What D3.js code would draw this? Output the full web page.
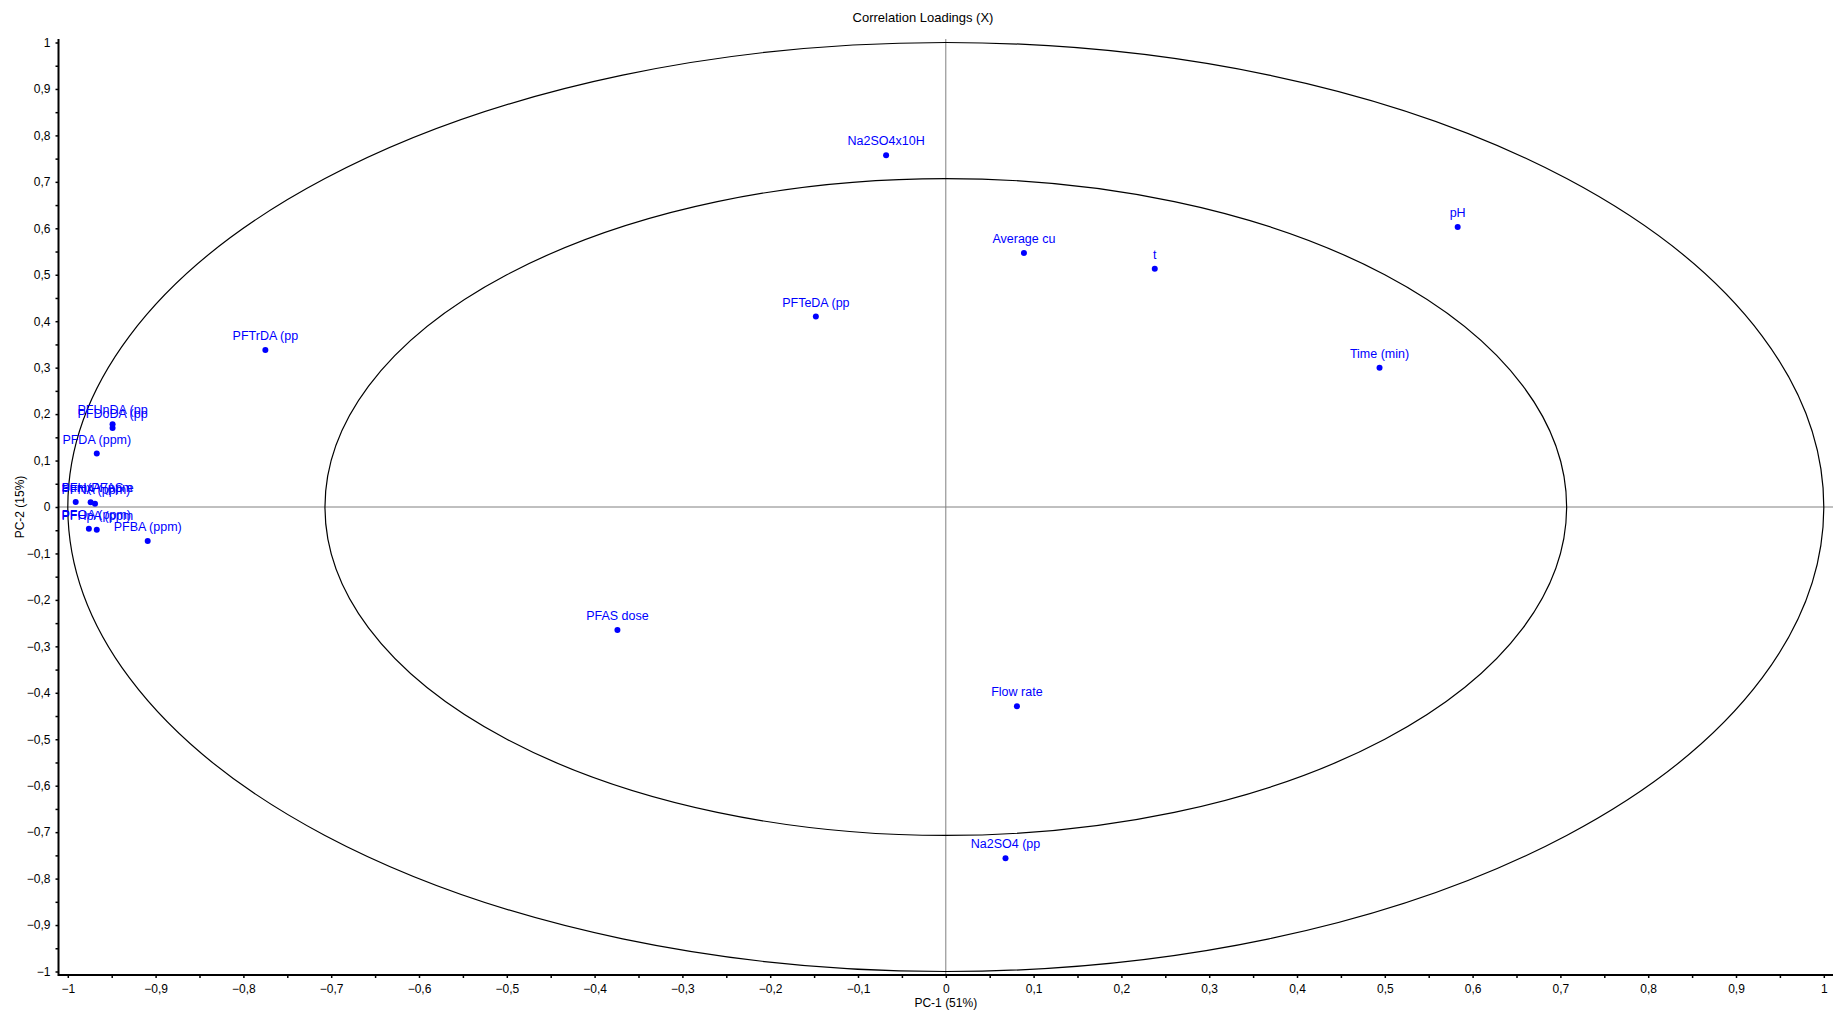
<!DOCTYPE html>
<html>
<head>
<meta charset="utf-8">
<script src="https://cdn.jsdelivr.net/npm/d3@7"></script>
<style>
    body { margin: 0; background: #fff; }
    svg { display: block; font-family: "Liberation Sans", Arial, sans-serif; }
</style>
</head>
<body>
<div id="chart"></div>
<script>
// loadings
const variableNames = [
    "Na2SO4x10H", "pH", "Average cu", "t", "PFTeDA (pp", "Time (min)",
    "PFTrDA (pp", "PFUnDA (pp", "PFDoDA (pp", "PFDA (ppm)", "Sum(PFAS e",
    "PFHxA (ppm", "PFNA (ppm)", "PFOA (ppm)", "PFHpA (ppm", "PFBA (ppm)",
    "PFAS dose", "Flow rate", "Na2SO4 (pp"
];
const pc1Values = [
    -0.068, 0.583, 0.089, 0.238, -0.148, 0.494,
    -0.775, -0.949, -0.949, -0.967, -0.991,
    -0.974, -0.969, -0.976, -0.967, -0.909,
    -0.374, 0.081, 0.068
];
const pc2Values = [
    0.757, 0.603, 0.547, 0.513, 0.410, 0.300,
    0.338, 0.178, 0.170, 0.115, 0.011,
    0.010, 0.007, -0.047, -0.049, -0.073,
    -0.265, -0.429, -0.756
];
const majorTicks = d3.range(-10, 11).map(i => i / 10);
const minorTicks = d3.range(-19, 20, 2).map(i => i / 20);
const ellipseRadii = [1, Math.SQRT1_2];

const width = 1833, height = 1014;
const axisLeftX = 58.5, axisBottomY = 975;

const x = d3.scaleLinear().domain([-1, 1]).range([67.8, 1823.8]);
const y = d3.scaleLinear().domain([-1, 1]).range([971.5, 42.5]);

const fmt = d => {
    if (Math.abs(d) < 1e-9) return "0";
    let s = d3.format(".1f")(d).replace(".", ",");
    return s.replace(",0", "");
};

const svg = d3.select("#chart").append("svg")
    .attr("width", width)
    .attr("height", height);

// title
svg.append("text")
    .attr("x", 923)
    .attr("y", 22)
    .attr("text-anchor", "middle")
    .attr("font-size", 13)
    .attr("fill", "#000")
    .text("Correlation Loadings (X)");

// zero lines
svg.append("line")
    .attr("x1", axisLeftX).attr("x2", width)
    .attr("y1", y(0)).attr("y2", y(0))
    .attr("stroke", "#808080").attr("stroke-width", 1);
svg.append("line")
    .attr("x1", x(0)).attr("x2", x(0))
    .attr("y1", 39).attr("y2", axisBottomY)
    .attr("stroke", "#808080").attr("stroke-width", 1);

// correlation ellipses (r = 1 and r = sqrt(0.5))
svg.selectAll(".ring")
    .data(ellipseRadii)
    .enter()
    .append("ellipse")
    .attr("class", "ring")
    .attr("cx", x(0))
    .attr("cy", y(0))
    .attr("rx", r => x(r) - x(0))
    .attr("ry", r => y(0) - y(r))
    .attr("fill", "none")
    .attr("stroke", "#000")
    .attr("stroke-width", 1.2);

// axes
const xAxis = svg.append("g")
    .attr("transform", `translate(0,${axisBottomY})`)
    .call(d3.axisBottom(x).tickValues(majorTicks).tickFormat(fmt).tickSize(3).tickPadding(6).tickSizeOuter(0));
const xMinor = svg.append("g")
    .attr("transform", `translate(0,${axisBottomY})`)
    .call(d3.axisBottom(x).tickValues(minorTicks).tickFormat("").tickSize(3).tickSizeOuter(0));
const yAxis = svg.append("g")
    .attr("transform", `translate(${axisLeftX},0)`)
    .call(d3.axisLeft(y).tickValues(majorTicks).tickFormat(fmt).tickSize(3).tickPadding(5).tickSizeOuter(0));
const yMinor = svg.append("g")
    .attr("transform", `translate(${axisLeftX},0)`)
    .call(d3.axisLeft(y).tickValues(minorTicks).tickFormat("").tickSize(3).tickSizeOuter(0));

[xAxis, xMinor, yAxis, yMinor].forEach(g => {
    g.select(".domain").remove();
    g.selectAll(".tick line").attr("stroke", "#000").attr("stroke-width", 1.5);
    g.selectAll(".tick text")
        .attr("font-size", 12)
        .attr("font-family", "Liberation Sans, Arial, sans-serif")
        .attr("fill", "#000");
});

svg.append("line")
    .attr("x1", axisLeftX).attr("x2", width)
    .attr("y1", axisBottomY).attr("y2", axisBottomY)
    .attr("stroke", "#000").attr("stroke-width", 2);
svg.append("line")
    .attr("x1", axisLeftX).attr("x2", axisLeftX)
    .attr("y1", 39).attr("y2", axisBottomY + 1)
    .attr("stroke", "#000").attr("stroke-width", 2);

// axis titles
svg.append("text")
    .attr("x", x(0))
    .attr("y", 1007)
    .attr("text-anchor", "middle")
    .attr("font-size", 12)
    .text("PC-1 (51%)");
svg.append("text")
    .attr("transform", `translate(24,${y(0)}) rotate(-90)`)
    .attr("text-anchor", "middle")
    .attr("font-size", 12)
    .text("PC-2 (15%)");

// loadings
const loadings = variableNames.map((name, i) => ({ name, pc1: pc1Values[i], pc2: pc2Values[i] }));

svg.selectAll(".dot")
    .data(loadings)
    .enter()
    .append("circle")
    .attr("class", "dot")
    .attr("cx", d => x(d.pc1))
    .attr("cy", d => y(d.pc2))
    .attr("r", 3)
    .attr("fill", "#0000ff");

svg.selectAll(".lbl")
    .data(loadings)
    .enter()
    .append("text")
    .attr("class", "lbl")
    .attr("x", d => x(d.pc1))
    .attr("y", d => y(d.pc2) - 10)
    .attr("text-anchor", "middle")
    .attr("font-size", 12.5)
    .attr("fill", "#0000ff")
    .text(d => d.name)
    .each(function(d) {
        // keep labels inside the plot on the left
        const w = this.getComputedTextLength();
        const cx = x(d.pc1);
        if (cx - w / 2 < axisLeftX + 3) {
            d3.select(this).attr("x", axisLeftX + 3 + w / 2);
        }
    });
</script>
</body>
</html>
